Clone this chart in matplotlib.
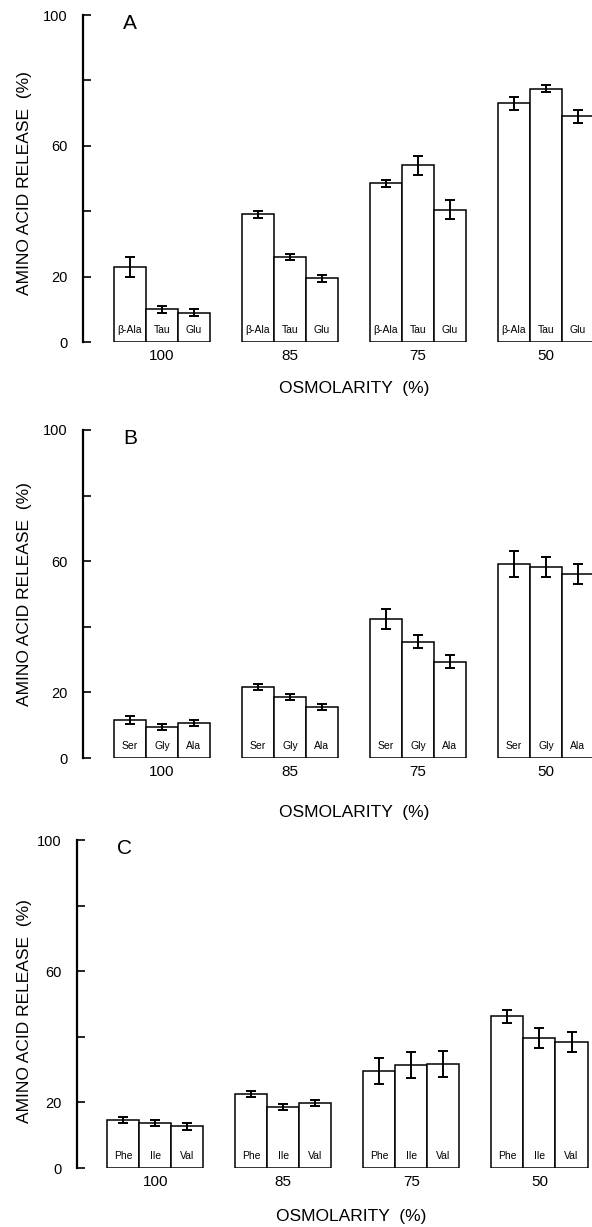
import numpy as np
import matplotlib.pyplot as plt

plt.rcParams['font.family'] = ['Liberation Sans', 'DejaVu Sans']

osmolarity = ['100', '85', '75', '50']

# panel A
names_a = ['\u03b2-Ala', 'Tau', 'Glu']
vals_a = [[23, 10, 9], [39, 26, 19.5], [48.5, 54, 40.5], [73, 77.5, 69]]
errs_a = [[3, 1, 1], [1, 1, 1], [1, 3, 3], [2, 1, 2]]

# panel B
names_b = ['Ser', 'Gly', 'Ala']
vals_b = [[11.6, 9.5, 10.7], [21.6, 18.6, 15.5], [42.4, 35.4, 29.3], [59.2, 58.3, 56]]
errs_b = [[1.2, 1, 1], [1, 1, 1], [3, 2, 2], [4, 3, 3]]

# panel C
names_c = ['Phe', 'Ile', 'Val']
vals_c = [[14.6, 13.7, 12.7], [22.5, 18.6, 19.8], [29.6, 31.4, 31.7], [46.3, 39.6, 38.4]]
errs_c = [[1, 1, 1], [1, 1, 1], [4, 4, 4], [2, 3, 3]]

panels = [
    ('A', names_a, vals_a, errs_a, [83/592, 1 - 342/1227, 509/592, 327/1227], (-0.617, 3.36), 0.485, -0.141),
    ('B', names_b, vals_b, errs_b, [83/592, 1 - 758/1227, 509/592, 328/1227], (-0.617, 3.36), 0.5, -0.165),
    ('C', names_c, vals_c, errs_c, [77/592, 1 - 1168/1227, 515/592, 328/1227], (-0.61, 3.41), 0.479, -0.149),
]

fig = plt.figure(figsize=(5.92, 12.27), dpi=100)
w = 0.25
for letter, names, vals, errs, rect, xl, ly, lx in panels:
    ax = fig.add_axes(rect)
    vals = np.array(vals)
    errs = np.array(errs)
    for j in range(3):
        x = np.arange(4) + (j - 1) * w
        ax.bar(x, vals[:, j], width=w, color='white', edgecolor='black', linewidth=1.1)
        ax.errorbar(x, vals[:, j], yerr=errs[:, j], fmt='none', ecolor='black',
                    elinewidth=1.4, capsize=3.5, capthick=1.4)
        for xi in x:
            ax.text(xi, 3.7, names[j], ha='center', va='center', fontsize=7.5)
    ax.set_xlim(*xl)
    ax.set_ylim(0, 100)
    ax.set_yticks([0, 20, 40, 60, 80, 100])
    ax.set_yticklabels(['0', '20', '', '60', '', '100'])
    ax.tick_params(axis='y', direction='in', length=6, width=1.2, pad=11, labelsize=10.5)
    ax.set_xticks(range(4))
    ax.set_xticklabels(osmolarity)
    ax.tick_params(axis='x', length=0, pad=5, labelsize=11)
    for s in ['top', 'right', 'bottom']:
        ax.spines[s].set_visible(False)
    ax.spines['left'].set_linewidth(1.6)
    ax.set_xlabel('OSMOLARITY  (%)', fontsize=12.5)
    ax.xaxis.label.set_va('center')
    ax.xaxis.set_label_coords(0.532, lx)
    ax.set_ylabel('AMINO ACID RELEASE  (%)', fontsize=12.5)
    ax.yaxis.label.set_va('center')
    ax.yaxis.set_label_coords(-(rect[0] * 592 - 25) / (rect[2] * 592), ly)
    ax.text(0.092, 0.975, letter, transform=ax.transAxes, ha='center', va='center', fontsize=15)

fig.savefig('out.png', dpi=100)
